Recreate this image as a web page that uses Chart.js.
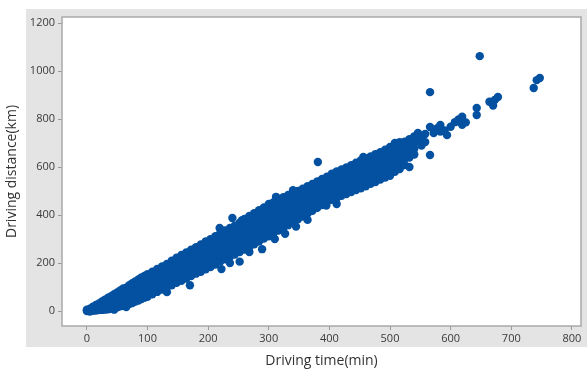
<!DOCTYPE html>
<html>
<head>
<meta charset="utf-8">
<script src="https://cdn.jsdelivr.net/npm/chart.js@4.4.1/dist/chart.umd.min.js"></script>
<style>
  html, body { margin: 0; padding: 0; background: #fff; }
  #wrap { width: 587px; height: 369px; }
</style>
</head>
<body>
<div id="wrap"><canvas id="scatter"></canvas></div>
<script>
// each entry: [driving time (min), [driving distances (km) of the dots in that column]]
const shortTrips = [
  [0, [0, 6]], [5, [-2, 10]], [10, [1, 18]], [15, [2, 26]], [20, [4, 18, 32]],
  [25, [5, 22, 40]], [30, [6, 26, 48]], [35, [8, 30, 56]], [40, [11, 34, 62]],
  [45, [6, 38, 62, 70]], [50, [16, 40, 64, 78]], [55, [20, 44, 68, 86]],
  [60, [22, 46, 70, 94]], [65, [17, 50, 74, 98]], [70, [30, 54, 78, 102, 108]],
  [75, [34, 58, 82, 106, 116]], [80, [40, 62, 86, 110, 124]], [85, [44, 66, 90, 114, 132]],
  [90, [50, 72, 96, 120, 140]], [95, [56, 78, 102, 126, 146]]
];
const midTrips = [
  [100, [60, 84, 108, 132, 154]], [108, [70, 94, 118, 142, 164]], [116, [80, 104, 128, 152, 176]],
  [124, [90, 114, 138, 162, 186]], [132, [79, 100, 124, 148, 172, 196]],
  [140, [108, 130, 154, 178, 202, 210]], [148, [118, 140, 164, 188, 212, 222]],
  [156, [126, 150, 174, 198, 222, 234]], [164, [136, 160, 184, 208, 232, 244]], [170, [108]],
  [172, [146, 170, 194, 218, 242, 256]], [180, [156, 178, 202, 226, 250, 266]],
  [188, [164, 188, 212, 236, 260, 278]], [196, [174, 198, 222, 246, 270, 290]]
];
const longTrips = [
  [204, [184, 208, 232, 256, 280, 300]], [212, [194, 218, 242, 266, 290, 312]], [219, [346]],
  [220, [206, 230, 254, 278, 302, 324]], [222, [175]], [228, [216, 240, 264, 288, 312, 336]],
  [236, [200, 226, 250, 274, 298, 322, 346]], [240, [388]], [244, [236, 260, 284, 308, 332, 356]],
  [252, [206, 246, 270, 294, 318, 342, 368]], [256, [379]], [260, [256, 280, 304, 328, 352, 376, 384]],
  [268, [246, 266, 290, 314, 338, 362, 386, 396]], [276, [278, 302, 326, 350, 374, 398, 408]],
  [284, [290, 314, 338, 362, 386, 410, 420]], [289, [258]],
  [292, [302, 326, 350, 374, 398, 422, 432]], [300, [312, 336, 360, 384, 408, 432, 446]]
];
const veryLongTrips = [
  [308, [324, 348, 372, 396, 420, 444, 454]], [310, [300]], [312, [476]],
  [316, [336, 360, 384, 408, 432, 456, 464]],
  [324, [346, 370, 394, 418, 442, 466, 474]], [327, [322]],
  [332, [358, 382, 406, 430, 454, 478, 484]], [340, [370, 394, 418, 442, 466, 490, 504]],
  [345, [352]], [348, [382, 406, 430, 454, 478, 500]], [356, [394, 418, 442, 466, 490, 510]],
  [364, [380, 406, 430, 454, 478, 502, 520]], [372, [418, 442, 466, 490, 514, 530]],
  [380, [430, 454, 478, 502, 526, 540]], [381, [621]],
  [388, [442, 466, 490, 514, 538, 550]], [395, [440]], [396, [454, 478, 502, 526, 550, 560]],
  [404, [464, 488, 512, 536, 560, 572]], [412, [446, 470, 494, 518, 542, 566, 582]],
  [420, [480, 504, 528, 552, 576, 590]], [428, [488, 512, 536, 560, 584, 598]],
  [436, [496, 520, 544, 568, 592, 608]], [444, [504, 528, 552, 576, 600, 618]],
  [452, [512, 536, 560, 584, 608, 628]], [456, [642]], [460, [520, 544, 568, 592, 616, 636]],
  [468, [530, 554, 578, 602, 626, 644]], [476, [538, 562, 586, 610, 634, 654]],
  [484, [548, 572, 596, 620, 644, 662]], [492, [556, 580, 604, 628, 652, 672]],
  [500, [564, 588, 612, 636, 660, 684]]
];
const tailTrips = [
  [508, [580, 604, 628, 652, 676, 700]], [516, [592, 616, 640, 664, 688, 704]],
  [524, [608, 632, 656, 680, 706]], [532, [600, 640, 664, 690, 716]],
  [540, [652, 676, 700, 728]], [546, [712, 742]], [552, [690, 722]], [558, [704, 738]],
  [566, [650, 767, 912]], [572, [742]], [578, [762]], [583, [748, 775]], [590, [752]],
  [594, [733]], [600, [768]], [607, [787]], [613, [798]], [619, [776, 810]], [625, [786]],
  [643, [817, 846]], [648, [1062]], [664, [872]], [670, [856]], [673, [880]], [678, [892]],
  [737, [929]], [742, [962]], [747, [971]]
];
const xTicks = [0, 100, 200, 300, 400, 500, 600, 700, 800];
const yTicks = [0, 200, 400, 600, 800, 1000, 1200];

const points = [].concat(shortTrips, midTrips, longTrips, veryLongTrips, tailTrips)
  .flatMap(([t, ds]) => ds.map(d => ({ x: t, y: d })));

const frame = {
  id: 'frame',
  beforeDraw(chart) {
    const { ctx, chartArea: a } = chart;
    ctx.save();
    ctx.fillStyle = '#e4e4e4';
    ctx.fillRect(26, 9, 561, 338);
    ctx.fillStyle = '#ffffff';
    ctx.fillRect(a.left, a.top, a.right - a.left, a.bottom - a.top);
    ctx.restore();
  },
  afterDraw(chart) {
    const { ctx, chartArea: a } = chart;
    ctx.save();
    ctx.strokeStyle = '#a9a9a9';
    ctx.lineWidth = 1.5;
    ctx.strokeRect(a.left, a.top, a.right - a.left, a.bottom - a.top);
    ctx.restore();
  }
};

const tickFont = { family: 'Open Sans', size: 11 };
const titleFont = { family: 'Open Sans', size: 14 };

new Chart(document.getElementById('scatter'), {
  type: 'scatter',
  data: {
    datasets: [{
      data: points,
      backgroundColor: '#0351a0',
      borderWidth: 0,
      pointRadius: 4.2,
      pointHoverRadius: 4.2
    }]
  },
  options: {
    responsive: true,
    maintainAspectRatio: false,
    animation: false,
    layout: { padding: { top: 17, right: 6, left: 0, bottom: 0 } },
    plugins: { legend: { display: false }, tooltip: { enabled: false } },
    scales: {
      x: {
        type: 'linear',
        min: -41,
        max: 815,
        afterBuildTicks: s => { s.ticks = xTicks.map(v => ({ value: v })); },
        afterFit: s => { s.height = 43; },
        grid: { drawOnChartArea: false, tickLength: 4, color: '#9a9a9a' },
        border: { display: false },
        ticks: { font: tickFont, color: '#3a3a3a', padding: 2, maxRotation: 0, callback: v => String(v) },
        title: { display: true, text: 'Driving time(min)', font: titleFont, color: '#333', padding: { top: 0, bottom: 0 } }
      },
      y: {
        min: -62,
        max: 1225,
        afterBuildTicks: s => { s.ticks = yTicks.map(v => ({ value: v })); },
        afterFit: s => { s.width = 62; },
        grid: { drawOnChartArea: false, tickLength: 4, color: '#9a9a9a' },
        border: { display: false },
        ticks: { font: tickFont, color: '#3a3a3a', padding: 3, callback: v => String(v) },
        title: { display: true, text: 'Driving distance(km)', font: titleFont, color: '#333', padding: { top: 4, bottom: 0 } }
      }
    }
  },
  plugins: [frame]
});
</script>
</body>
</html>
